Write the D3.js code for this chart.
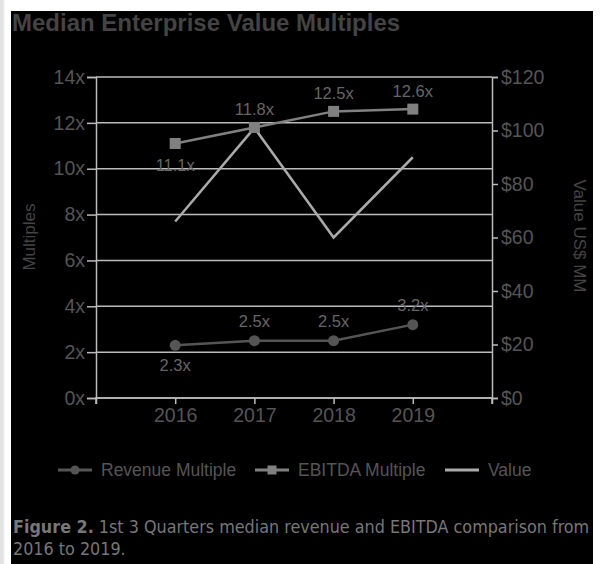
<!DOCTYPE html>
<html>
<head>
<meta charset="UTF-8">
<title>Median Enterprise Value Multiples</title>
<script src="https://cdn.jsdelivr.net/npm/d3@7"></script>
<style>
    body { margin: 0; background: #fff; }
    #wrap {
        position: relative; width: 602px; height: 564px;
        background: linear-gradient(to right, #e2e2e2 0px, #e2e2e2 3px, #fff 5px);
    }
    #panel { position: absolute; left: 11px; top: 11px; width: 582px; height: 553px; background: #000; }
    svg text { font-family: "Liberation Sans", Arial, sans-serif; }
    #caption {
        position: absolute; left: 13px; top: 516px; width: 585px; white-space: nowrap;
        font-family: "DejaVu Sans Condensed", "DejaVu Sans", sans-serif;
        font-size: 17.8px; line-height: 22px; color: #777;
    }
</style>
</head>
<body>
<div id="wrap">
    <div id="panel"></div>
    <svg id="chart" width="602" height="564" style="position:absolute;left:0;top:0"></svg>
    <div id="caption"><b>Figure 2.</b> 1st 3 Quarters median revenue and EBITDA comparison from<br>2016 to 2019.</div>
</div>
<script>
    const years = ["2016", "2017", "2018", "2019"];
    const revenueMultiple = [2.3, 2.5, 2.5, 3.2];
    const ebitdaMultiple = [11.1, 11.8, 12.5, 12.6];
    const valueMM = [66, 101, 60, 90];
    const leftTicks = [0, 2, 4, 6, 8, 10, 12, 14];
    const rightTicks = [0, 20, 40, 60, 80, 100, 120];

    const svg = d3.select("#chart");
    const plotL = 96, plotR = 492, plotT = 77, plotB = 398;
    const gridCol = "#bcbcbc", tickCol = "#555";

    // padded point scale so the frame edges become the outer ticks
    const x = d3.scalePoint().domain(["a"].concat(years, ["b"])).range([plotL, plotR]);
    const yL = d3.scaleLinear().domain([0, 14]).range([plotB, plotT]);
    const yR = d3.scaleLinear().domain([0, 120]).range([plotB, plotT]);

    svg.append("text").attr("x", 12).attr("y", 31)
        .attr("font-size", 24).attr("font-weight", "bold").attr("fill", "#444")
        .text("Median Enterprise Value Multiples");

    // gridlines
    svg.append("g").selectAll("line").data(leftTicks).join("line")
        .attr("x1", plotL).attr("x2", plotR)
        .attr("y1", d => yL(d)).attr("y2", d => yL(d))
        .attr("stroke", gridCol).attr("stroke-width", 1.5);

    const axL = svg.append("g").attr("transform", `translate(${plotL},0)`)
        .call(d3.axisLeft(yL).tickValues(leftTicks).tickFormat(d => d + "x").tickSize(9).tickPadding(2));
    const axR = svg.append("g").attr("transform", `translate(${plotR},0)`)
        .call(d3.axisRight(yR).tickValues(rightTicks).tickFormat(d => "$" + d).tickSize(6).tickPadding(3));
    const axB = svg.append("g").attr("transform", `translate(0,${plotB})`)
        .call(d3.axisBottom(x).tickFormat(d => years.includes(d) ? d : "").tickSize(6).tickPadding(4));

    [axL, axR, axB].forEach(g => {
        g.select(".domain").attr("stroke", gridCol).attr("stroke-width", 1.5);
        g.selectAll(".tick line").attr("stroke", gridCol).attr("stroke-width", 1.5);
        g.selectAll("text").attr("fill", tickCol).attr("font-size", 19.5)
            .attr("font-family", "Liberation Sans, Arial, sans-serif");
    });
    axB.select(".domain").attr("d", `M${plotL},6V0H${plotR}V6`);

    svg.append("text").attr("transform", "translate(35,237) rotate(-90)")
        .attr("text-anchor", "middle").attr("font-size", 17).attr("fill", "#444").text("Multiples");
    svg.append("text").attr("transform", "translate(574,236) rotate(90)")
        .attr("text-anchor", "middle").attr("font-size", 17).attr("fill", "#444").text("Value US$ MM");

    const lineL = d3.line().x((d, i) => x(years[i])).y(d => yL(d));
    const lineR = d3.line().x((d, i) => x(years[i])).y(d => yR(d));

    svg.append("path").datum(valueMM).attr("d", lineR)
        .attr("fill", "none").attr("stroke", "#aaaaaa").attr("stroke-width", 2.5);

    svg.append("path").datum(ebitdaMultiple).attr("d", lineL)
        .attr("fill", "none").attr("stroke", "#808080").attr("stroke-width", 2.5);
    svg.append("g").selectAll("rect").data(ebitdaMultiple).join("rect")
        .attr("x", (d, i) => x(years[i]) - 5.5).attr("y", d => yL(d) - 5.5)
        .attr("width", 11).attr("height", 11).attr("fill", "#808080");

    svg.append("path").datum(revenueMultiple).attr("d", lineL)
        .attr("fill", "none").attr("stroke", "#555").attr("stroke-width", 2.5);
    svg.append("g").selectAll("circle").data(revenueMultiple).join("circle")
        .attr("cx", (d, i) => x(years[i])).attr("cy", d => yL(d)).attr("r", 5.5)
        .attr("fill", "#555");

    // data labels: first point below, rest above
    const labelCol = "#666";
    svg.append("g").selectAll("text").data(ebitdaMultiple).join("text")
        .attr("x", (d, i) => x(years[i])).attr("y", (d, i) => yL(d) + (i === 0 ? 28 : -12))
        .attr("text-anchor", "middle").attr("font-size", 16.5).attr("fill", labelCol)
        .text(d => d.toFixed(1) + "x");
    svg.append("g").selectAll("text").data(revenueMultiple).join("text")
        .attr("x", (d, i) => x(years[i])).attr("y", (d, i) => yL(d) + (i === 0 ? 26 : -14))
        .attr("text-anchor", "middle").attr("font-size", 16.5).attr("fill", labelCol)
        .text(d => d.toFixed(1) + "x");

    // legend
    const legend = [
        {name: "Revenue Multiple", col: "#555", mark: "circle", x: 58},
        {name: "EBITDA Multiple", col: "#808080", mark: "rect", x: 255},
        {name: "Value", col: "#aaaaaa", mark: "none", x: 445}
    ];
    const lg = svg.append("g").selectAll("g").data(legend).join("g")
        .attr("transform", d => `translate(${d.x},470)`);
    lg.append("line").attr("x1", 0).attr("x2", 34).attr("stroke", d => d.col).attr("stroke-width", 3);
    lg.filter(d => d.mark === "circle").append("circle").attr("cx", 17).attr("r", 4.5).attr("fill", d => d.col);
    lg.filter(d => d.mark === "rect").append("rect").attr("x", 12.5).attr("y", -4.5)
        .attr("width", 9).attr("height", 9).attr("fill", d => d.col);
    lg.append("text").attr("x", 43).attr("y", 6).attr("font-size", 17.5).attr("fill", "#555").text(d => d.name);
</script>
</body>
</html>
